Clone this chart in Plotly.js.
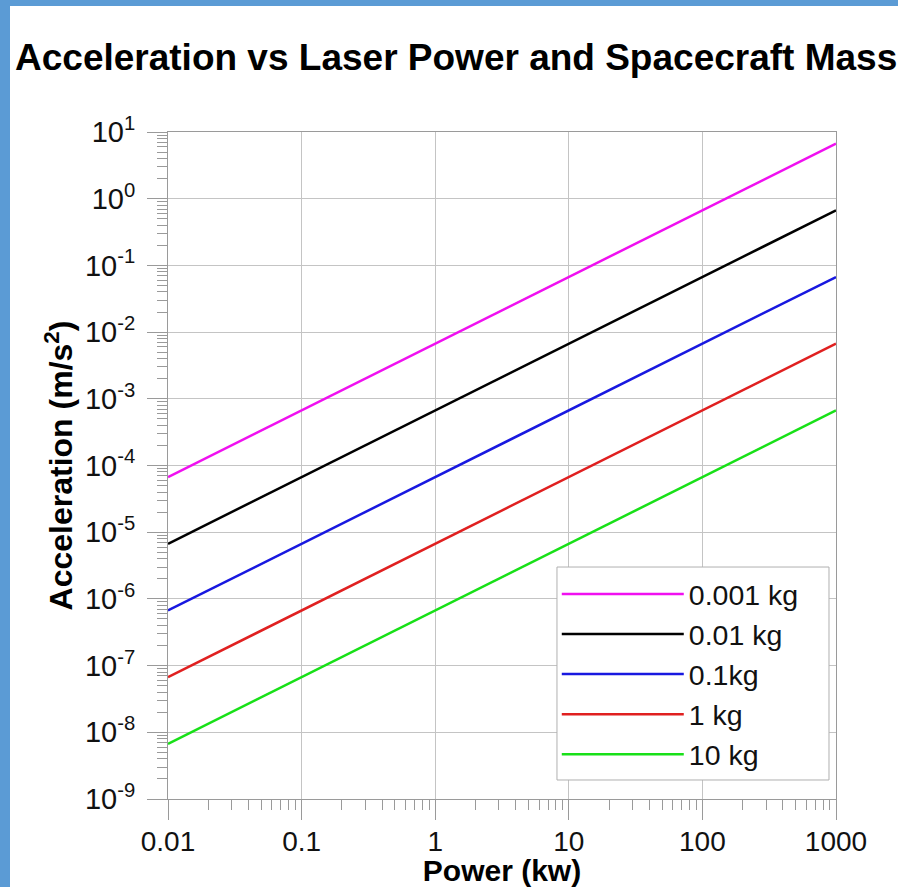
<!DOCTYPE html>
<html>
<head>
<meta charset="utf-8">
<script src="https://cdn.plot.ly/plotly-3.0.1.min.js"></script>
<style>
  html, body { margin: 0; padding: 0; background: #5b9bd5; width: 898px; height: 887px; overflow: hidden; }
  #plot { position: absolute; left: 10px; top: 6px; width: 888px; height: 881px; background: #ffffff; }
</style>
</head>
<body>
<div id="plot"></div>
<script>
// Data
const powerKw = [0.01, 0.1, 1, 10, 100, 1000];
const seriesNames = ["0.001 kg", "0.01 kg", "0.1kg", "1 kg", "10 kg"];
const acc_0001kg = [6.7e-5, 6.7e-4, 6.7e-3, 6.7e-2, 0.67, 6.7];
const acc_001kg  = [6.7e-6, 6.7e-5, 6.7e-4, 6.7e-3, 6.7e-2, 0.67];
const acc_01kg   = [6.7e-7, 6.7e-6, 6.7e-5, 6.7e-4, 6.7e-3, 6.7e-2];
const acc_1kg    = [6.7e-8, 6.7e-7, 6.7e-6, 6.7e-5, 6.7e-4, 6.7e-3];
const acc_10kg   = [6.7e-9, 6.7e-8, 6.7e-7, 6.7e-6, 6.7e-5, 6.7e-4];
const xTickVals = [0.01, 0.1, 1, 10, 100, 1000];
const xTickText = ["0.01", "0.1", "1", "10", "100", "1000"];
const yTickVals = [1e-9, 1e-8, 1e-7, 1e-6, 1e-5, 1e-4, 1e-3, 1e-2, 1e-1, 1, 10];
const yTickText = ["10<sup>-9</sup>", "10<sup>-8</sup>", "10<sup>-7</sup>", "10<sup>-6</sup>", "10<sup>-5</sup>",
                   "10<sup>-4</sup>", "10<sup>-3</sup>", "10<sup>-2</sup>", "10<sup>-1</sup>", "10<sup>0</sup>", "10<sup>1</sup>"];

const allSeries = [acc_0001kg, acc_001kg, acc_01kg, acc_1kg, acc_10kg];
const colors = ["#f010f0", "#000000", "#1818e0", "#e02020", "#18e018"];

const FONT = "Liberation Sans, Arial, Helvetica, sans-serif";

const traces = allSeries.map((ys, i) => ({
  x: powerKw,
  y: ys,
  name: seriesNames[i],
  type: "scatter",
  mode: "lines",
  line: { color: colors[i], width: 2.5 }
}));

const axisCommon = {
  type: "log",
  showgrid: true,
  gridcolor: "#c4c4c4",
  gridwidth: 1,
  showline: true,
  linecolor: "#9a9a9a",
  linewidth: 1,
  mirror: true,
  ticks: "outside",
  ticklen: 20,
  tickcolor: "#9a9a9a",
  tickwidth: 1,
  tickmode: "array",
  zeroline: false,
  minor: { dtick: "D1", ticks: "outside", ticklen: 10, tickcolor: "#9a9a9a", tickwidth: 1, showgrid: false }
};

const layout = {
  width: 888,
  height: 881,
  paper_bgcolor: "#ffffff",
  plot_bgcolor: "#ffffff",
  margin: { l: 158, r: 62, t: 126, b: 88 },
  showlegend: true,
  title: {
    text: "<b>Acceleration vs Laser Power and Spacecraft Mass</b>",
    font: { family: FONT, size: 37, color: "#000" },
    xref: "container", x: 5 / 888, xanchor: "left",
    yref: "container", y: 1 - 51 / 881, yanchor: "middle"
  },
  xaxis: Object.assign({}, axisCommon, {
    range: [-2, 3],
    tickvals: xTickVals,
    ticktext: xTickText,
    tickfont: { family: FONT, size: 28, color: "#111" },
    ticklabelstandoff: -3,
    title: { text: "<b>Power (kw)</b>", font: { family: FONT, size: 30, color: "#000" }, standoff: 4 }
  }),
  yaxis: Object.assign({}, axisCommon, {
    range: [-9, 1],
    tickvals: yTickVals,
    ticktext: yTickText,
    tickfont: { family: FONT, size: 29, color: "#111" },
    ticklabelstandoff: 6,
    title: { text: "<b>Acceleration (m/s<sup>2</sup>)</b>", font: { family: FONT, size: 32, color: "#000" }, standoff: 2 }
  }),
  // legend frame (white box with grey border) drawn behind the legend entries
  shapes: [{
    type: "rect", xref: "paper", yref: "paper", layer: "above",
    x0: 0.5823, x1: 0.9895, y0: 0.0285, y1: 0.3478,
    fillcolor: "#ffffff",
    line: { color: "#b0b0b0", width: 1 }
  }],
  legend: {
    x: 0.582, y: 0.0285, xanchor: "left", yanchor: "bottom",
    bgcolor: "rgba(0,0,0,0)",
    borderwidth: 0,
    font: { family: FONT, size: 28.5, color: "#111" },
    itemwidth: 122,
    tracegroupgap: 0
  }
};

Plotly.newPlot("plot", traces, layout, { displayModeBar: false, staticPlot: true });
</script>
</body>
</html>
